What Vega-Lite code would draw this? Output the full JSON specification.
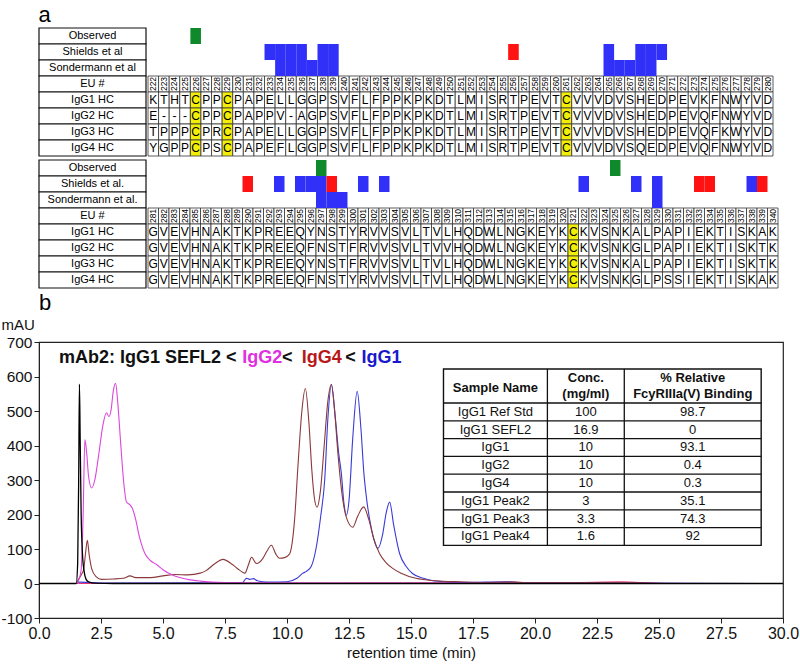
{
"$schema":"https://vega.github.io/schema/vega-lite/v6.json",
"padding":{"left":0,"top":4,"right":0,"bottom":0},
"spacing":2,
"config":{"font":"Liberation Sans","view":{"stroke":null},"axis":{"labelOverlap":false}},
"datasets":{
"labTop":[{"k":"obs","lab":"Observed","hd":true},{"k":"sh","lab":"Shields et al","hd":true},{"k":"so","lab":"Sondermann et al","hd":true},{"k":"eu","lab":"EU #","hd":false},{"k":"g1","lab":"IgG1 HC","hd":false},{"k":"g2","lab":"IgG2 HC","hd":false},{"k":"g3","lab":"IgG3 HC","hd":false},{"k":"g4","lab":"IgG4 HC","hd":false}],
"labBot":[{"k":"obs","lab":"Observed","hd":true},{"k":"sh","lab":"Shields et al.","hd":true},{"k":"so","lab":"Sondermann et al.","hd":true},{"k":"eu","lab":"EU #","hd":false},{"k":"g1","lab":"IgG1 HC","hd":false},{"k":"g2","lab":"IgG2 HC","hd":false},{"k":"g3","lab":"IgG3 HC","hd":false},{"k":"g4","lab":"IgG4 HC","hd":false}],
"seqTop":[
{"eu":222,"g1":"K","g2":"E","g3":"T","g4":"Y","b":["g2","g3","g4"]},
{"eu":223,"g1":"T","g2":"-","g3":"P","g4":"G","b":["g3","g4"]},
{"eu":224,"g1":"H","g2":"-","g3":"P","g4":"P","b":["g3","g4"]},
{"eu":225,"g1":"T","g2":"-","g3":"P","g4":"P","b":["g3","g4"]},
{"eu":226,"g1":"C","g2":"C","g3":"C","g4":"C"},
{"eu":227,"g1":"P","g2":"P","g3":"P","g4":"P"},
{"eu":228,"g1":"P","g2":"P","g3":"R","g4":"S","b":["g3","g4"]},
{"eu":229,"g1":"C","g2":"C","g3":"C","g4":"C"},
{"eu":230,"g1":"P","g2":"P","g3":"P","g4":"P"},
{"eu":231,"g1":"A","g2":"A","g3":"A","g4":"A"},
{"eu":232,"g1":"P","g2":"P","g3":"P","g4":"P"},
{"eu":233,"g1":"E","g2":"P","g3":"E","g4":"E"},
{"eu":234,"g1":"L","g2":"V","g3":"L","g4":"F","b":["g2","g4"]},
{"eu":235,"g1":"L","g2":"-","g3":"L","g4":"L"},
{"eu":236,"g1":"G","g2":"A","g3":"G","g4":"G","b":["g2"]},
{"eu":237,"g1":"G","g2":"G","g3":"G","g4":"G"},
{"eu":238,"g1":"P","g2":"P","g3":"P","g4":"P"},
{"eu":239,"g1":"S","g2":"S","g3":"S","g4":"S"},
{"eu":240,"g1":"V","g2":"V","g3":"V","g4":"V"},
{"eu":241,"g1":"F","g2":"F","g3":"F","g4":"F"},
{"eu":242,"g1":"L","g2":"L","g3":"L","g4":"L"},
{"eu":243,"g1":"F","g2":"F","g3":"F","g4":"F"},
{"eu":244,"g1":"P","g2":"P","g3":"P","g4":"P"},
{"eu":245,"g1":"P","g2":"P","g3":"P","g4":"P"},
{"eu":246,"g1":"K","g2":"K","g3":"K","g4":"K"},
{"eu":247,"g1":"P","g2":"P","g3":"P","g4":"P"},
{"eu":248,"g1":"K","g2":"K","g3":"K","g4":"K"},
{"eu":249,"g1":"D","g2":"D","g3":"D","g4":"D"},
{"eu":250,"g1":"T","g2":"T","g3":"T","g4":"T"},
{"eu":251,"g1":"L","g2":"L","g3":"L","g4":"L"},
{"eu":252,"g1":"M","g2":"M","g3":"M","g4":"M"},
{"eu":253,"g1":"I","g2":"I","g3":"I","g4":"I"},
{"eu":254,"g1":"S","g2":"S","g3":"S","g4":"S"},
{"eu":255,"g1":"R","g2":"R","g3":"R","g4":"R"},
{"eu":256,"g1":"T","g2":"T","g3":"T","g4":"T"},
{"eu":257,"g1":"P","g2":"P","g3":"P","g4":"P"},
{"eu":258,"g1":"E","g2":"E","g3":"E","g4":"E"},
{"eu":259,"g1":"V","g2":"V","g3":"V","g4":"V"},
{"eu":260,"g1":"T","g2":"T","g3":"T","g4":"T"},
{"eu":261,"g1":"C","g2":"C","g3":"C","g4":"C"},
{"eu":262,"g1":"V","g2":"V","g3":"V","g4":"V"},
{"eu":263,"g1":"V","g2":"V","g3":"V","g4":"V"},
{"eu":264,"g1":"V","g2":"V","g3":"V","g4":"V"},
{"eu":265,"g1":"D","g2":"D","g3":"D","g4":"D"},
{"eu":266,"g1":"V","g2":"V","g3":"V","g4":"V"},
{"eu":267,"g1":"S","g2":"S","g3":"S","g4":"S"},
{"eu":268,"g1":"H","g2":"H","g3":"H","g4":"Q","b":["g4"]},
{"eu":269,"g1":"E","g2":"E","g3":"E","g4":"E"},
{"eu":270,"g1":"D","g2":"D","g3":"D","g4":"D"},
{"eu":271,"g1":"P","g2":"P","g3":"P","g4":"P"},
{"eu":272,"g1":"E","g2":"E","g3":"E","g4":"E"},
{"eu":273,"g1":"V","g2":"V","g3":"V","g4":"V"},
{"eu":274,"g1":"K","g2":"Q","g3":"Q","g4":"Q","b":["g2","g3","g4"]},
{"eu":275,"g1":"F","g2":"F","g3":"F","g4":"F"},
{"eu":276,"g1":"N","g2":"N","g3":"K","g4":"N","b":["g3"]},
{"eu":277,"g1":"W","g2":"W","g3":"W","g4":"W"},
{"eu":278,"g1":"Y","g2":"Y","g3":"Y","g4":"Y"},
{"eu":279,"g1":"V","g2":"V","g3":"V","g4":"V"},
{"eu":280,"g1":"D","g2":"D","g3":"D","g4":"D"}
],
"seqBot":[
{"eu":281,"g1":"G","g2":"G","g3":"G","g4":"G"},
{"eu":282,"g1":"V","g2":"V","g3":"V","g4":"V"},
{"eu":283,"g1":"E","g2":"E","g3":"E","g4":"E"},
{"eu":284,"g1":"V","g2":"V","g3":"V","g4":"V"},
{"eu":285,"g1":"H","g2":"H","g3":"H","g4":"H"},
{"eu":286,"g1":"N","g2":"N","g3":"N","g4":"N"},
{"eu":287,"g1":"A","g2":"A","g3":"A","g4":"A"},
{"eu":288,"g1":"K","g2":"K","g3":"K","g4":"K"},
{"eu":289,"g1":"T","g2":"T","g3":"T","g4":"T"},
{"eu":290,"g1":"K","g2":"K","g3":"K","g4":"K"},
{"eu":291,"g1":"P","g2":"P","g3":"P","g4":"P"},
{"eu":292,"g1":"R","g2":"R","g3":"R","g4":"R"},
{"eu":293,"g1":"E","g2":"E","g3":"E","g4":"E"},
{"eu":294,"g1":"E","g2":"E","g3":"E","g4":"E"},
{"eu":295,"g1":"Q","g2":"Q","g3":"Q","g4":"Q"},
{"eu":296,"g1":"Y","g2":"F","g3":"Y","g4":"F","b":["g2","g4"]},
{"eu":297,"g1":"N","g2":"N","g3":"N","g4":"N"},
{"eu":298,"g1":"S","g2":"S","g3":"S","g4":"S"},
{"eu":299,"g1":"T","g2":"T","g3":"T","g4":"T"},
{"eu":300,"g1":"Y","g2":"F","g3":"F","g4":"Y","b":["g2","g3"]},
{"eu":301,"g1":"R","g2":"R","g3":"R","g4":"R"},
{"eu":302,"g1":"V","g2":"V","g3":"V","g4":"V"},
{"eu":303,"g1":"V","g2":"V","g3":"V","g4":"V"},
{"eu":304,"g1":"S","g2":"S","g3":"S","g4":"S"},
{"eu":305,"g1":"V","g2":"V","g3":"V","g4":"V"},
{"eu":306,"g1":"L","g2":"L","g3":"L","g4":"L"},
{"eu":307,"g1":"T","g2":"T","g3":"T","g4":"T"},
{"eu":308,"g1":"V","g2":"V","g3":"V","g4":"V"},
{"eu":309,"g1":"L","g2":"V","g3":"L","g4":"L","b":["g2"]},
{"eu":310,"g1":"H","g2":"H","g3":"H","g4":"H"},
{"eu":311,"g1":"Q","g2":"Q","g3":"Q","g4":"Q"},
{"eu":312,"g1":"D","g2":"D","g3":"D","g4":"D"},
{"eu":313,"g1":"W","g2":"W","g3":"W","g4":"W"},
{"eu":314,"g1":"L","g2":"L","g3":"L","g4":"L"},
{"eu":315,"g1":"N","g2":"N","g3":"N","g4":"N"},
{"eu":316,"g1":"G","g2":"G","g3":"G","g4":"G"},
{"eu":317,"g1":"K","g2":"K","g3":"K","g4":"K"},
{"eu":318,"g1":"E","g2":"E","g3":"E","g4":"E"},
{"eu":319,"g1":"Y","g2":"Y","g3":"Y","g4":"Y"},
{"eu":320,"g1":"K","g2":"K","g3":"K","g4":"K"},
{"eu":321,"g1":"C","g2":"C","g3":"C","g4":"C"},
{"eu":322,"g1":"K","g2":"K","g3":"K","g4":"K"},
{"eu":323,"g1":"V","g2":"V","g3":"V","g4":"V"},
{"eu":324,"g1":"S","g2":"S","g3":"S","g4":"S"},
{"eu":325,"g1":"N","g2":"N","g3":"N","g4":"N"},
{"eu":326,"g1":"K","g2":"K","g3":"K","g4":"K"},
{"eu":327,"g1":"A","g2":"G","g3":"A","g4":"G","b":["g4"]},
{"eu":328,"g1":"L","g2":"L","g3":"L","g4":"L"},
{"eu":329,"g1":"P","g2":"P","g3":"P","g4":"P"},
{"eu":330,"g1":"A","g2":"A","g3":"A","g4":"S","b":["g4"]},
{"eu":331,"g1":"P","g2":"P","g3":"P","g4":"S","b":["g4"]},
{"eu":332,"g1":"I","g2":"I","g3":"I","g4":"I"},
{"eu":333,"g1":"E","g2":"E","g3":"E","g4":"E"},
{"eu":334,"g1":"K","g2":"K","g3":"K","g4":"K"},
{"eu":335,"g1":"T","g2":"T","g3":"T","g4":"T"},
{"eu":336,"g1":"I","g2":"I","g3":"I","g4":"I"},
{"eu":337,"g1":"S","g2":"S","g3":"S","g4":"S"},
{"eu":338,"g1":"K","g2":"K","g3":"K","g4":"K"},
{"eu":339,"g1":"A","g2":"T","g3":"T","g4":"A","b":["g2","g3"]},
{"eu":340,"g1":"K","g2":"K","g3":"K","g4":"K"}
],
"effTop":[
{"eu":226,"k":"obs","eff":"observed"},
{"eu":233,"k":"sh","eff":"decrease"},{"eu":234,"k":"sh","eff":"decrease"},{"eu":235,"k":"sh","eff":"decrease"},{"eu":236,"k":"sh","eff":"decrease"},{"eu":238,"k":"sh","eff":"decrease"},{"eu":239,"k":"sh","eff":"decrease"},
{"eu":256,"k":"sh","eff":"increase"},
{"eu":265,"k":"sh","eff":"decrease"},{"eu":268,"k":"sh","eff":"decrease"},{"eu":269,"k":"sh","eff":"decrease"},{"eu":270,"k":"sh","eff":"decrease"},
{"eu":234,"k":"so","eff":"decrease"},{"eu":235,"k":"so","eff":"decrease"},{"eu":236,"k":"so","eff":"decrease"},{"eu":237,"k":"so","eff":"decrease"},{"eu":238,"k":"so","eff":"decrease"},{"eu":239,"k":"so","eff":"decrease"},
{"eu":265,"k":"so","eff":"decrease"},{"eu":266,"k":"so","eff":"decrease"},{"eu":267,"k":"so","eff":"decrease"},{"eu":268,"k":"so","eff":"decrease"},{"eu":269,"k":"so","eff":"decrease"}
],
"effBot":[
{"eu":297,"k":"obs","eff":"observed"},{"eu":325,"k":"obs","eff":"observed"},
{"eu":290,"k":"sh","eff":"increase"},{"eu":293,"k":"sh","eff":"decrease"},{"eu":295,"k":"sh","eff":"decrease"},{"eu":296,"k":"sh","eff":"decrease"},{"eu":297,"k":"sh","eff":"decrease"},{"eu":298,"k":"sh","eff":"increase"},
{"eu":301,"k":"sh","eff":"decrease"},{"eu":303,"k":"sh","eff":"decrease"},{"eu":322,"k":"sh","eff":"decrease"},{"eu":327,"k":"sh","eff":"decrease"},{"eu":329,"k":"sh","eff":"decrease"},
{"eu":333,"k":"sh","eff":"increase"},{"eu":334,"k":"sh","eff":"increase"},{"eu":338,"k":"sh","eff":"decrease"},{"eu":339,"k":"sh","eff":"increase"},
{"eu":297,"k":"so","eff":"decrease"},{"eu":298,"k":"so","eff":"decrease"},{"eu":299,"k":"so","eff":"decrease"},{"eu":329,"k":"so","eff":"decrease"}
],
"lines":[
{"s":"SEFL2","t":0,"v":0},{"s":"SEFL2","t":1.5,"v":0},{"s":"SEFL2","t":1.56,"v":60},{"s":"SEFL2","t":1.6,"v":300},{"s":"SEFL2","t":1.63,"v":578},{"s":"SEFL2","t":1.66,"v":420},{"s":"SEFL2","t":1.7,"v":200},{"s":"SEFL2","t":1.75,"v":90},{"s":"SEFL2","t":1.82,"v":35},{"s":"SEFL2","t":1.9,"v":12},{"s":"SEFL2","t":2.0,"v":5},{"s":"SEFL2","t":2.3,"v":1},{"s":"SEFL2","t":3,"v":0},{"s":"SEFL2","t":30,"v":0},
{"s":"IgG2","t":0,"v":0},{"s":"IgG2","t":1.5,"v":0},{"s":"IgG2","t":1.6,"v":10},{"s":"IgG2","t":1.7,"v":40},{"s":"IgG2","t":1.78,"v":200},{"s":"IgG2","t":1.85,"v":417},{"s":"IgG2","t":1.92,"v":380},{"s":"IgG2","t":2.0,"v":310},{"s":"IgG2","t":2.12,"v":277},{"s":"IgG2","t":2.25,"v":300},{"s":"IgG2","t":2.39,"v":364},{"s":"IgG2","t":2.58,"v":460},{"s":"IgG2","t":2.72,"v":495},{"s":"IgG2","t":2.82,"v":484},{"s":"IgG2","t":2.9,"v":500},{"s":"IgG2","t":3.0,"v":560},{"s":"IgG2","t":3.09,"v":580},{"s":"IgG2","t":3.18,"v":520},{"s":"IgG2","t":3.3,"v":400},{"s":"IgG2","t":3.42,"v":290},{"s":"IgG2","t":3.53,"v":236},{"s":"IgG2","t":3.67,"v":228},{"s":"IgG2","t":3.78,"v":215},{"s":"IgG2","t":3.9,"v":185},{"s":"IgG2","t":4.05,"v":135},{"s":"IgG2","t":4.27,"v":87},{"s":"IgG2","t":4.5,"v":66},{"s":"IgG2","t":4.74,"v":55},{"s":"IgG2","t":5.0,"v":40},{"s":"IgG2","t":5.4,"v":24},{"s":"IgG2","t":6.0,"v":12},{"s":"IgG2","t":6.5,"v":7},{"s":"IgG2","t":7.5,"v":3},{"s":"IgG2","t":9,"v":2},{"s":"IgG2","t":12,"v":1},{"s":"IgG2","t":15,"v":1},{"s":"IgG2","t":30,"v":0},
{"s":"IgG4","t":0,"v":0},{"s":"IgG4","t":1.5,"v":0},{"s":"IgG4","t":1.58,"v":10},{"s":"IgG4","t":1.7,"v":25},{"s":"IgG4","t":1.8,"v":40},{"s":"IgG4","t":1.88,"v":90},{"s":"IgG4","t":1.95,"v":125},{"s":"IgG4","t":2.02,"v":85},{"s":"IgG4","t":2.12,"v":44},{"s":"IgG4","t":2.3,"v":20},{"s":"IgG4","t":2.52,"v":12},{"s":"IgG4","t":3.0,"v":13},{"s":"IgG4","t":3.4,"v":15},{"s":"IgG4","t":3.67,"v":22},{"s":"IgG4","t":3.9,"v":17},{"s":"IgG4","t":4.5,"v":17},{"s":"IgG4","t":5.0,"v":22},{"s":"IgG4","t":5.5,"v":26},{"s":"IgG4","t":6.0,"v":25},{"s":"IgG4","t":6.5,"v":30},{"s":"IgG4","t":6.75,"v":38},{"s":"IgG4","t":7.1,"v":58},{"s":"IgG4","t":7.42,"v":70},{"s":"IgG4","t":7.8,"v":55},{"s":"IgG4","t":8.1,"v":38},{"s":"IgG4","t":8.3,"v":30},{"s":"IgG4","t":8.45,"v":55},{"s":"IgG4","t":8.57,"v":76},{"s":"IgG4","t":8.77,"v":58},{"s":"IgG4","t":9.0,"v":70},{"s":"IgG4","t":9.2,"v":95},{"s":"IgG4","t":9.37,"v":111},{"s":"IgG4","t":9.55,"v":85},{"s":"IgG4","t":9.7,"v":73},{"s":"IgG4","t":9.9,"v":75},{"s":"IgG4","t":10.1,"v":85},{"s":"IgG4","t":10.3,"v":180},{"s":"IgG4","t":10.45,"v":350},{"s":"IgG4","t":10.6,"v":500},{"s":"IgG4","t":10.74,"v":565},{"s":"IgG4","t":10.88,"v":470},{"s":"IgG4","t":11.0,"v":330},{"s":"IgG4","t":11.1,"v":250},{"s":"IgG4","t":11.21,"v":221},{"s":"IgG4","t":11.35,"v":270},{"s":"IgG4","t":11.5,"v":400},{"s":"IgG4","t":11.65,"v":530},{"s":"IgG4","t":11.79,"v":577},{"s":"IgG4","t":11.92,"v":500},{"s":"IgG4","t":12.05,"v":380},{"s":"IgG4","t":12.2,"v":270},{"s":"IgG4","t":12.4,"v":190},{"s":"IgG4","t":12.65,"v":163},{"s":"IgG4","t":12.85,"v":195},{"s":"IgG4","t":13.09,"v":222},{"s":"IgG4","t":13.3,"v":185},{"s":"IgG4","t":13.5,"v":130},{"s":"IgG4","t":13.73,"v":87},{"s":"IgG4","t":14.0,"v":60},{"s":"IgG4","t":14.26,"v":44},{"s":"IgG4","t":14.6,"v":30},{"s":"IgG4","t":15.2,"v":15},{"s":"IgG4","t":16,"v":8},{"s":"IgG4","t":17,"v":5},{"s":"IgG4","t":18,"v":3},{"s":"IgG4","t":19,"v":4},{"s":"IgG4","t":20,"v":2},{"s":"IgG4","t":24,"v":2},{"s":"IgG4","t":25,"v":0},{"s":"IgG4","t":30,"v":0},
{"s":"IgG1","t":0,"v":0},{"s":"IgG1","t":1.5,"v":0},{"s":"IgG1","t":1.6,"v":4},{"s":"IgG1","t":2.0,"v":3},{"s":"IgG1","t":2.5,"v":1},{"s":"IgG1","t":8.2,"v":2},{"s":"IgG1","t":8.36,"v":15},{"s":"IgG1","t":8.5,"v":12},{"s":"IgG1","t":8.65,"v":14},{"s":"IgG1","t":8.8,"v":8},{"s":"IgG1","t":9.2,"v":4},{"s":"IgG1","t":10.0,"v":5},{"s":"IgG1","t":10.4,"v":15},{"s":"IgG1","t":10.64,"v":30},{"s":"IgG1","t":10.78,"v":35},{"s":"IgG1","t":10.98,"v":50},{"s":"IgG1","t":11.18,"v":105},{"s":"IgG1","t":11.35,"v":190},{"s":"IgG1","t":11.52,"v":300},{"s":"IgG1","t":11.65,"v":480},{"s":"IgG1","t":11.79,"v":577},{"s":"IgG1","t":11.95,"v":480},{"s":"IgG1","t":12.08,"v":380},{"s":"IgG1","t":12.19,"v":320},{"s":"IgG1","t":12.3,"v":230},{"s":"IgG1","t":12.39,"v":198},{"s":"IgG1","t":12.5,"v":240},{"s":"IgG1","t":12.65,"v":420},{"s":"IgG1","t":12.83,"v":557},{"s":"IgG1","t":12.98,"v":450},{"s":"IgG1","t":13.1,"v":320},{"s":"IgG1","t":13.2,"v":251},{"s":"IgG1","t":13.4,"v":160},{"s":"IgG1","t":13.67,"v":102},{"s":"IgG1","t":13.85,"v":140},{"s":"IgG1","t":14.0,"v":205},{"s":"IgG1","t":14.14,"v":236},{"s":"IgG1","t":14.3,"v":170},{"s":"IgG1","t":14.54,"v":87},{"s":"IgG1","t":14.8,"v":50},{"s":"IgG1","t":15.06,"v":29},{"s":"IgG1","t":15.5,"v":15},{"s":"IgG1","t":15.87,"v":8},{"s":"IgG1","t":17,"v":3},{"s":"IgG1","t":19,"v":5},{"s":"IgG1","t":19.5,"v":2},{"s":"IgG1","t":30,"v":0},
{"s":"Blank","t":0,"v":0},{"s":"Blank","t":1.6,"v":0},{"s":"Blank","t":10,"v":1},{"s":"Blank","t":17,"v":2},{"s":"Blank","t":19,"v":4},{"s":"Blank","t":20,"v":2},{"s":"Blank","t":22,"v":3},{"s":"Blank","t":23.5,"v":5},{"s":"Blank","t":24.5,"v":2},{"s":"Blank","t":26,"v":0},{"s":"Blank","t":30,"v":0}
],
"tbl":[
{"order":1,"name":"IgG1 Ref Std","conc":"100","bind":"98.7"},
{"order":2,"name":"IgG1 SEFL2","conc":"16.9","bind":"0"},
{"order":3,"name":"IgG1","conc":"10","bind":"93.1"},
{"order":4,"name":"IgG2","conc":"10","bind":"0.4"},
{"order":5,"name":"IgG4","conc":"10","bind":"0.3"},
{"order":6,"name":"IgG1 Peak2","conc":"3","bind":"35.1"},
{"order":7,"name":"IgG1 Peak3","conc":"3.3","bind":"74.3"},
{"order":8,"name":"IgG1 Peak4","conc":"1.6","bind":"92"}
]
},
"vconcat":[
{
"title":{"text":"a","anchor":"start","fontSize":22,"fontWeight":"normal","offset":0,"dx":0},
"spacing":0,
"resolve":{"scale":{"x":"independent","y":"independent","color":"independent"}},
"hconcat":[
{"width":107,"height":128,"data":{"name":"labTop"},
"layer":[
{"mark":{"type":"rect","fill":"white","stroke":"#111","strokeWidth":1.2},
"encoding":{"y":{"field":"k","type":"nominal","sort":null,"scale":{"type":"band","domain":["obs","sh","so","eu","g1","g2","g3","g4"],"paddingInner":0,"paddingOuter":0},"axis":null}}},
{"mark":{"type":"text","fontSize":11,"baseline":"middle"},
"encoding":{"y":{"field":"k","type":"nominal","axis":null},"text":{"field":"lab"},"fontWeight":{"condition":{"test":"datum.hd","value":"bold"},"value":"normal"}}}
]},
{"width":625,"height":128,
"layer":[
{"data":{"name":"seqTop"},"mark":{"type":"rect","fill":"white","stroke":"#333","strokeWidth":0.8},
"encoding":{"x":{"field":"eu","type":"ordinal","sort":"ascending","scale":{"type":"band","paddingInner":0,"paddingOuter":0},"axis":null},
"y":{"datum":"eu","type":"nominal","scale":{"type":"band","domain":["obs","sh","so","eu","g1","g2","g3","g4"],"paddingInner":0,"paddingOuter":0},"axis":null}}},
{"data":{"name":"seqTop"},"mark":{"type":"text","angle":270,"fontSize":8.5,"baseline":"middle"},
"encoding":{"x":{"field":"eu","type":"ordinal"},"y":{"datum":"eu","type":"nominal"},"text":{"field":"eu"}}},
{"data":{"name":"seqTop"},"transform":[{"fold":["g1","g2","g3","g4"],"as":["k","aa"]}],
"mark":{"type":"rect","stroke":"#333","strokeWidth":0.8},
"encoding":{"x":{"field":"eu","type":"ordinal"},"y":{"field":"k","type":"nominal"},
"fill":{"condition":{"test":"datum.aa === 'C'","value":"#f2ee0a"},"value":"white"}}},
{"data":{"name":"seqTop"},"transform":[{"fold":["g1","g2","g3","g4"],"as":["k","aa"]}],
"mark":{"type":"text","fontSize":12,"baseline":"middle"},
"encoding":{"x":{"field":"eu","type":"ordinal"},"y":{"field":"k","type":"nominal"},"text":{"field":"aa"},
"fontWeight":{"condition":{"test":"isArray(datum.b) && indexof(datum.b, datum.k) >= 0","value":"bold"},"value":"normal"}}},
{"data":{"name":"effTop"},"mark":{"type":"rect"},
"encoding":{"x":{"field":"eu","type":"ordinal"},"y":{"field":"k","type":"nominal"},
"color":{"field":"eff","type":"nominal","scale":{"domain":["observed","decrease","increase"],"range":["#0e8a2c","#3030f8","#ff1212"]},"legend":null}}}
]}
]},
{
"spacing":0,
"resolve":{"scale":{"x":"independent","y":"independent","color":"independent"}},
"hconcat":[
{"width":107,"height":128,"data":{"name":"labBot"},
"layer":[
{"mark":{"type":"rect","fill":"white","stroke":"#111","strokeWidth":1.2},
"encoding":{"y":{"field":"k","type":"nominal","sort":null,"scale":{"type":"band","domain":["obs","sh","so","eu","g1","g2","g3","g4"],"paddingInner":0,"paddingOuter":0},"axis":null}}},
{"mark":{"type":"text","fontSize":11,"baseline":"middle"},
"encoding":{"y":{"field":"k","type":"nominal","axis":null},"text":{"field":"lab"},"fontWeight":{"condition":{"test":"datum.hd","value":"bold"},"value":"normal"}}}
]},
{"width":630,"height":128,
"layer":[
{"data":{"name":"seqBot"},"mark":{"type":"rect","fill":"white","stroke":"#333","strokeWidth":0.8},
"encoding":{"x":{"field":"eu","type":"ordinal","sort":"ascending","scale":{"type":"band","paddingInner":0,"paddingOuter":0},"axis":null},
"y":{"datum":"eu","type":"nominal","scale":{"type":"band","domain":["obs","sh","so","eu","g1","g2","g3","g4"],"paddingInner":0,"paddingOuter":0},"axis":null}}},
{"data":{"name":"seqBot"},"mark":{"type":"text","angle":270,"fontSize":8.5,"baseline":"middle"},
"encoding":{"x":{"field":"eu","type":"ordinal"},"y":{"datum":"eu","type":"nominal"},"text":{"field":"eu"}}},
{"data":{"name":"seqBot"},"transform":[{"fold":["g1","g2","g3","g4"],"as":["k","aa"]}],
"mark":{"type":"rect","stroke":"#333","strokeWidth":0.8},
"encoding":{"x":{"field":"eu","type":"ordinal"},"y":{"field":"k","type":"nominal"},
"fill":{"condition":{"test":"datum.aa === 'C'","value":"#f2ee0a"},"value":"white"}}},
{"data":{"name":"seqBot"},"transform":[{"fold":["g1","g2","g3","g4"],"as":["k","aa"]}],
"mark":{"type":"text","fontSize":12,"baseline":"middle"},
"encoding":{"x":{"field":"eu","type":"ordinal"},"y":{"field":"k","type":"nominal"},"text":{"field":"aa"},
"fontWeight":{"condition":{"test":"isArray(datum.b) && indexof(datum.b, datum.k) >= 0","value":"bold"},"value":"normal"}}},
{"data":{"name":"effBot"},"mark":{"type":"rect"},
"encoding":{"x":{"field":"eu","type":"ordinal"},"y":{"field":"k","type":"nominal"},
"color":{"field":"eff","type":"nominal","scale":{"domain":["observed","decrease","increase"],"range":["#0e8a2c","#3030f8","#ff1212"]},"legend":null}}}
]}
]},
{
"width":744,"height":276,
"view":{"stroke":"#222","strokeWidth":1.2},
"title":{"text":"b","anchor":"start","frame":"group","fontSize":22,"fontWeight":"normal","offset":2},
"resolve":{"scale":{"y":"independent"}},
"layer":[
{"data":{"name":"lines"},
"encoding":{
"x":{"field":"t","type":"quantitative","scale":{"domain":[0,30],"nice":false},
"axis":{"values":[0,2.5,5,7.5,10,12.5,15,17.5,20,22.5,25,27.5,30],"format":".1f","title":"retention time (min)","labelFontSize":16,"labelFlush":false,"labelOverlap":false,"titleFontSize":15,"titleFontWeight":"normal","grid":false,"tickSize":5,"domainColor":"#222","tickColor":"#222","labelColor":"#111","titleColor":"#111"}},
"y":{"field":"v","type":"quantitative","scale":{"domain":[-100,700],"nice":false,"zero":false},
"axis":{"tickCount":8,"labelExpr":"replace(datum.label, '\u2212', '-')","labelOverlap":false,"title":"mAU","titleAngle":0,"titleAlign":"left","titleBaseline":"bottom","titleX":-38,"titleY":-10,"titleFontSize":15,"titleFontWeight":"normal","labelFontSize":15.5,"labelPadding":2,"grid":false,"tickSize":5,"domainColor":"#222","tickColor":"#222","labelColor":"#111","titleColor":"#111"}}},
"layer":[
{"transform":[{"filter":"datum.s === 'Blank'"}],"mark":{"type":"line","color":"#e8346e","strokeWidth":1,"interpolate":"monotone"}},
{"transform":[{"filter":"datum.s === 'IgG1'"}],"mark":{"type":"line","color":"#3a3ad8","strokeWidth":1.1,"interpolate":"monotone"}},
{"transform":[{"filter":"datum.s === 'IgG4'"}],"mark":{"type":"line","color":"#8a3a3a","strokeWidth":1.1,"interpolate":"monotone"}},
{"transform":[{"filter":"datum.s === 'IgG2'"}],"mark":{"type":"line","color":"#dc46dc","strokeWidth":1.1,"interpolate":"monotone"}},
{"transform":[{"filter":"datum.s === 'SEFL2'"}],"mark":{"type":"line","color":"#000000","strokeWidth":1.3,"interpolate":"monotone"}}
]},
{"layer":[
{"data":{"values":[{"txt":"mAb2: IgG1 SEFL2 <"}]},"mark":{"type":"text","align":"left","baseline":"alphabetic","fontSize":18,"fontWeight":"bold","color":"#111"},
"encoding":{"x":{"datum":0.81},"y":{"datum":640,"scale":{"domain":[-100,700],"nice":false,"zero":false},"axis":null},"text":{"field":"txt"}}},
{"data":{"values":[{"txt":"IgG2"}]},"mark":{"type":"text","align":"left","baseline":"alphabetic","fontSize":18,"fontWeight":"bold","color":"#e030e0"},
"encoding":{"x":{"datum":8.2},"y":{"datum":640,"axis":null},"text":{"field":"txt"}}},
{"data":{"values":[{"txt":"<"}]},"mark":{"type":"text","align":"left","baseline":"alphabetic","fontSize":18,"fontWeight":"bold","color":"#111"},
"encoding":{"x":{"datum":9.8},"y":{"datum":640,"axis":null},"text":{"field":"txt"}}},
{"data":{"values":[{"txt":"IgG4"}]},"mark":{"type":"text","align":"left","baseline":"alphabetic","fontSize":18,"fontWeight":"bold","color":"#b81818"},
"encoding":{"x":{"datum":10.59},"y":{"datum":640,"axis":null},"text":{"field":"txt"}}},
{"data":{"values":[{"txt":"<"}]},"mark":{"type":"text","align":"left","baseline":"alphabetic","fontSize":18,"fontWeight":"bold","color":"#111"},
"encoding":{"x":{"datum":12.35},"y":{"datum":640,"axis":null},"text":{"field":"txt"}}},
{"data":{"values":[{"txt":"IgG1"}]},"mark":{"type":"text","align":"left","baseline":"alphabetic","fontSize":18,"fontWeight":"bold","color":"#1818cc"},
"encoding":{"x":{"datum":13.0},"y":{"datum":640,"axis":null},"text":{"field":"txt"}}}
]},
{"layer":[
{"data":{"values":[{}]},"mark":{"type":"rect","fill":"white","stroke":"#111","strokeWidth":1.4},
"encoding":{"x":{"datum":16.31},"x2":{"datum":29.12},
"y":{"datum":-1.41,"type":"quantitative","scale":{"domain":[-2.927,12.579],"reverse":true,"nice":false,"zero":false},"axis":null},"y2":{"datum":8.5}}},
{"data":{"name":"tbl"},"mark":{"type":"rule","stroke":"#111","strokeWidth":1.3,"yOffset":-8.9},
"encoding":{"x":{"datum":16.31},"x2":{"datum":29.12},"y":{"field":"order","type":"quantitative","axis":null}}},
{"data":{"values":[{}]},"mark":{"type":"rule","stroke":"#111","strokeWidth":1.3},
"encoding":{"x":{"datum":20.5},"y":{"datum":-1.41,"type":"quantitative","axis":null},"y2":{"datum":8.5}}},
{"data":{"values":[{}]},"mark":{"type":"rule","stroke":"#111","strokeWidth":1.3},
"encoding":{"x":{"datum":23.6},"y":{"datum":-1.41,"type":"quantitative","axis":null},"y2":{"datum":8.5}}},
{"data":{"values":[{"h":"Sample Name"}]},"mark":{"type":"text","fontSize":13,"fontWeight":"bold","baseline":"middle","color":"#111","dy":2},
"encoding":{"x":{"datum":18.405},"y":{"datum":-0.455,"type":"quantitative","axis":null},"text":{"field":"h"}}},
{"data":{"values":[{"h":"Conc.\n(mg/ml)"}]},"mark":{"type":"text","fontSize":13,"fontWeight":"bold","baseline":"middle","lineBreak":"\n","lineHeight":16,"color":"#111","dy":-8},
"encoding":{"x":{"datum":22.05},"y":{"datum":-0.455,"type":"quantitative","axis":null},"text":{"field":"h"}}},
{"data":{"values":[{"h":"% Relative\nFcyRIIIa(V) Binding"}]},"mark":{"type":"text","fontSize":13,"fontWeight":"bold","baseline":"middle","lineBreak":"\n","lineHeight":16,"color":"#111","dy":-8},
"encoding":{"x":{"datum":26.36},"y":{"datum":-0.455,"type":"quantitative","axis":null},"text":{"field":"h"}}},
{"data":{"name":"tbl"},"mark":{"type":"text","fontSize":13,"baseline":"middle","color":"#111"},
"encoding":{"x":{"datum":18.405},"y":{"field":"order","type":"quantitative","axis":null},"text":{"field":"name"}}},
{"data":{"name":"tbl"},"mark":{"type":"text","fontSize":13,"baseline":"middle","color":"#111"},
"encoding":{"x":{"datum":22.05},"y":{"field":"order","type":"quantitative","axis":null},"text":{"field":"conc"}}},
{"data":{"name":"tbl"},"mark":{"type":"text","fontSize":13,"baseline":"middle","color":"#111"},
"encoding":{"x":{"datum":26.36},"y":{"field":"order","type":"quantitative","axis":null},"text":{"field":"bind"}}}
]}
]
}
],
"resolve":{"scale":{"x":"independent","y":"independent","color":"independent"}}
}
